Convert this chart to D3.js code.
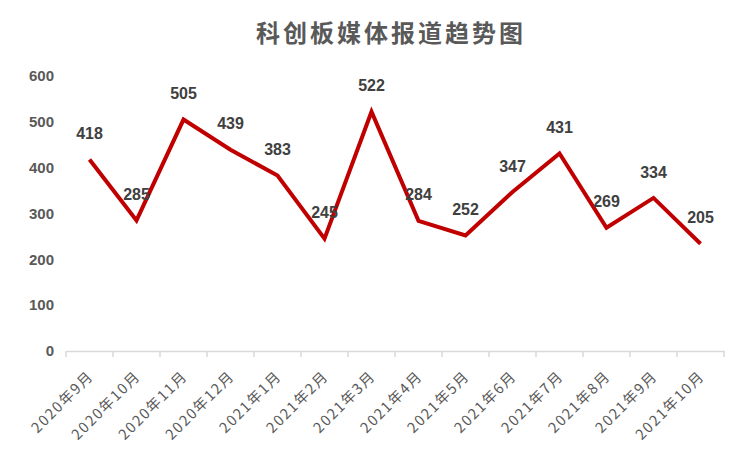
<!DOCTYPE html>
<html lang="zh">
<head>
<meta charset="UTF-8">
<title>科创板媒体报道趋势图</title>
<script src="https://d3js.org/d3.v7.min.js"></script>
<style>
    body { margin: 0; background: #fff; }
    text { font-family: "Liberation Sans", Arial, sans-serif; }
    .title { font-family: "Noto Sans CJK SC", sans-serif; font-weight: 700; font-size: 24px; fill: #595959; letter-spacing: 3px; }
    .xlab { font-family: "Noto Sans CJK SC", "Liberation Sans", sans-serif; font-size: 14.5px; fill: #595959; letter-spacing: 1.6px; }
</style>
</head>
<body>
<svg id="chart"></svg>
<script>
// 数据
const months = ["2020年9月", "2020年10月", "2020年11月", "2020年12月", "2021年1月", "2021年2月", "2021年3月",
    "2021年4月", "2021年5月", "2021年6月", "2021年7月", "2021年8月", "2021年9月", "2021年10月"];
// line position
const values = [418, 285, 505, 439, 383, 245, 522, 284, 252, 347, 431, 269, 334, 234];
// data labels as printed
const labels = ["418", "285", "505", "439", "383", "245", "522", "284", "252", "347", "431", "269", "334", "205"];
const yTicks = [0, 100, 200, 300, 400, 500, 600];

const W = 746, H = 463;
const svg = d3.select("#chart").attr("width", W).attr("height", H);

const x = d3.scaleBand().domain(months).range([66, 724]);
const y = d3.scaleLinear().domain([0, 600]).range([351, 76]);

svg.append("text")
    .attr("class", "title")
    .attr("x", 391).attr("y", 42)
    .attr("text-anchor", "middle")
    .text("科创板媒体报道趋势图");

// y axis labels only
svg.append("g")
    .selectAll("text")
    .data(yTicks)
    .join("text")
    .attr("x", 54)
    .attr("y", d => y(d))
    .attr("dy", "0.35em")
    .attr("text-anchor", "end")
    .attr("font-size", 15)
    .attr("font-weight", 700)
    .attr("fill", "#595959")
    .text(d => d);

// x axis
const xAxis = svg.append("g")
    .attr("transform", "translate(0,351)")
    .call(d3.axisBottom(x).tickSize(0).tickFormat(""));
xAxis.select(".domain").attr("stroke", "#d9d9d9").attr("stroke-width", 1.5);
// tick marks at band edges
xAxis.append("g")
    .selectAll("line")
    .data(months.concat(["end"]))
    .join("line")
    .attr("x1", (d, i) => x.range()[0] + i * x.step())
    .attr("x2", (d, i) => x.range()[0] + i * x.step())
    .attr("y1", 0).attr("y2", 6)
    .attr("stroke", "#d9d9d9").attr("stroke-width", 1.5);

svg.append("g")
    .selectAll("text")
    .data(months)
    .join("text")
    .attr("class", "xlab")
    .attr("text-anchor", "end")
    .attr("transform", d => `translate(${x(d) + x.bandwidth() / 2 + 5},${377}) rotate(-45)`)
    .text(d => d);

// line
const line = d3.line()
    .x((d, i) => x(months[i]) + x.bandwidth() / 2)
    .y(d => y(d));

svg.append("path")
    .datum(values)
    .attr("d", line)
    .attr("fill", "none")
    .attr("stroke", "#c00000")
    .attr("stroke-width", 4)
    .attr("stroke-linejoin", "miter");

// data labels
svg.append("g")
    .selectAll("text")
    .data(values)
    .join("text")
    .attr("x", (d, i) => x(months[i]) + x.bandwidth() / 2)
    .attr("y", d => y(d) - 26)
    .attr("dy", "0.35em")
    .attr("text-anchor", "middle")
    .attr("font-size", 16)
    .attr("font-weight", 700)
    .attr("fill", "#404040")
    .text((d, i) => labels[i]);
</script>
</body>
</html>
